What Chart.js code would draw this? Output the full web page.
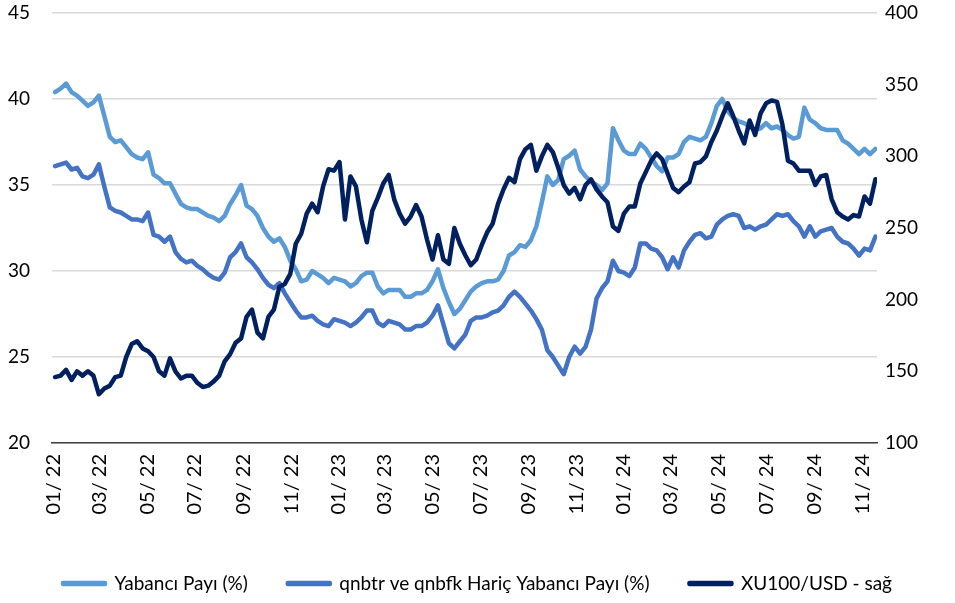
<!DOCTYPE html>
<html>
<head>
<meta charset="utf-8">
<script src="https://cdn.jsdelivr.net/npm/chart.js@4.4.1/dist/chart.umd.min.js"></script>
<style>
  html, body { margin: 0; padding: 0; background: #fff; }
  #wrap { width: 955px; height: 603px; position: relative; }
</style>
</head>
<body>
<div id="wrap"><canvas id="myChart"></canvas></div>
<script>
// Weekly readings, first week = 3 Jan 2022
const yabanciPayi = [
    40.4, 40.6, 40.9, 40.4, 40.2, 39.9, 39.6, 39.8, 40.2, 39.0,
    37.8, 37.5, 37.6, 37.2, 36.8, 36.6, 36.5, 36.9, 35.6, 35.4,
    35.1, 35.1, 34.5, 33.9, 33.7, 33.6, 33.6, 33.4, 33.2, 33.1,
    32.9, 33.2, 33.9, 34.4, 35.0, 33.8, 33.6, 33.2, 32.5, 32.0,
    31.7, 31.9, 31.4, 30.6, 30.1, 29.4, 29.5, 30.0, 29.8, 29.6,
    29.3, 29.6, 29.5, 29.4, 29.1, 29.3, 29.7, 29.9, 29.9, 29.1,
    28.7, 28.9, 28.9, 28.9, 28.5, 28.5, 28.7, 28.7, 28.9, 29.4,
    30.1, 29.0, 28.2, 27.5, 27.8, 28.3, 28.8, 29.1, 29.3, 29.4,
    29.4, 29.5, 30.0, 30.9, 31.1, 31.5, 31.4, 31.8, 32.6, 34.0,
    35.5, 35.0, 35.3, 36.5, 36.7, 37.0, 35.9, 35.5, 35.2, 35.0,
    34.7, 35.1, 38.3, 37.6, 37.0, 36.8, 36.8, 37.4, 37.1, 36.6,
    36.1, 35.8, 36.6, 36.6, 36.8, 37.5, 37.8, 37.7, 37.6, 37.8,
    38.6, 39.6, 40.0, 39.3, 38.9, 38.7, 38.6, 38.4, 38.2, 38.3,
    38.6, 38.3, 38.4, 38.2, 37.9, 37.7, 37.8, 39.5, 38.8, 38.6,
    38.3, 38.2, 38.2, 38.2, 37.6, 37.4, 37.1, 36.8, 37.1, 36.8,
    37.1
];
const haricPayi = [
    36.1, 36.2, 36.3, 35.9, 36.0, 35.5, 35.4, 35.6, 36.2, 34.9,
    33.7, 33.5, 33.4, 33.2, 33.0, 33.0, 32.9, 33.4, 32.1, 32.0,
    31.7, 32.0, 31.1, 30.7, 30.5, 30.6, 30.3, 30.1, 29.8, 29.6,
    29.5, 29.9, 30.8, 31.1, 31.6, 30.8, 30.5, 30.1, 29.6, 29.2,
    29.0, 29.3, 28.7, 28.2, 27.7, 27.3, 27.3, 27.4, 27.1, 26.9,
    26.8, 27.2, 27.1, 27.0, 26.8, 27.0, 27.3, 27.7, 27.7, 27.0,
    26.8, 27.1, 27.0, 26.9, 26.6, 26.6, 26.8, 26.8, 27.0, 27.4,
    28.0, 26.9, 25.8, 25.5, 25.9, 26.3, 27.1, 27.3, 27.3, 27.4,
    27.6, 27.7, 28.0, 28.5, 28.8, 28.5, 28.1, 27.7, 27.2, 26.6,
    25.4, 25.0, 24.5, 24.0, 25.0, 25.6, 25.2, 25.6, 26.6, 28.4,
    29.0, 29.4, 30.6, 30.0, 29.9, 29.7, 30.2, 31.6, 31.6, 31.3,
    31.2, 30.8, 30.1, 30.8, 30.2, 31.2, 31.7, 32.1, 32.2, 31.9,
    32.0, 32.7, 33.0, 33.2, 33.3, 33.2, 32.5, 32.6, 32.4, 32.6,
    32.7, 33.0, 33.3, 33.2, 33.3, 32.9, 32.6, 32.0, 32.6, 32.0,
    32.3, 32.4, 32.5, 32.0, 31.7, 31.6, 31.3, 30.9, 31.3, 31.2,
    32.0
];
const xu100Usd = [
    146, 147, 151, 144, 150, 147, 150, 147, 134, 138,
    140, 146, 147, 160, 169, 171, 166, 164, 160, 150,
    147, 159, 150, 145, 147, 147, 142, 139, 140, 143,
    147, 157, 162, 170, 173, 188, 193, 177, 173, 188,
    193, 209, 211, 218, 239, 246, 260, 267, 261, 279,
    291, 290, 296, 256, 286, 279, 256, 240, 262, 271,
    281, 287, 270, 260, 253, 258, 266, 258, 242, 228,
    245, 228, 225, 250, 239, 231, 224, 228, 238, 247,
    253, 267, 277, 285, 282, 298, 305, 308, 290, 300,
    308, 303, 292, 280, 274, 278, 270, 280, 284, 277,
    272, 268, 251, 248, 260, 265, 265, 281, 289, 297,
    302, 298, 288, 278, 275, 279, 282, 295, 296, 300,
    310, 318, 328, 337, 328, 318, 309, 325, 315, 330,
    337, 339, 338, 322, 297, 295, 290, 290, 290, 280,
    286, 287, 270, 261, 258, 256, 259, 258, 272, 267,
    284
];
const seriesNames = ['Yabancı Payı (%)', 'qnbtr ve qnbfk Hariç Yabancı Payı (%)', 'XU100/USD - sağ'];
const colorHex = ['#5b9bd5', '#4472c4', '#002060'];
const leftTicks = [20, 25, 30, 35, 40, 45];
const rightTicks = [100, 150, 200, 250, 300, 350, 400];

// x axis is "days since 1 Jan 2022"
const DAY = 86400000;
const origin = Date.UTC(2022, 0, 1);
const firstDay = (Date.UTC(2022, 0, 3) - origin) / DAY;
const weekDays = yabanciPayi.map((v, i) => firstDay + 7 * i);
// tick at first day of every second month: 01/22 ... 11/24
const tickDays = [];
for (let m = 0; m <= 34; m += 2) {
    tickDays.push((Date.UTC(2022, m, 1) - origin) / DAY);
}

function toPoints(values) {
    return values.map((v, i) => ({ x: weekDays[i], y: v }));
}

function monthLabel(day) {
    const d = new Date(origin + day * DAY);
    const mm = String(d.getUTCMonth() + 1).padStart(2, '0');
    return mm + '/ ' + String(d.getUTCFullYear()).slice(2);
}

// y axes: fixed width, no extra top/bottom padding
function fixY(width) {
    return scale => {
        scale.width = width;
        scale.paddingTop = 0;
        scale.paddingBottom = 0;
    };
}

Chart.defaults.font.family = 'Lato, "Open Sans", sans-serif';
Chart.defaults.color = '#000';

const ctx = document.getElementById('myChart').getContext('2d');
new Chart(ctx, {
    type: 'line',
    data: {
        datasets: [
            { label: seriesNames[0], data: toPoints(yabanciPayi), yAxisID: 'yL', borderColor: colorHex[0], backgroundColor: colorHex[0], order: 2 },
            { label: seriesNames[1], data: toPoints(haricPayi), yAxisID: 'yL', borderColor: colorHex[1], backgroundColor: colorHex[1], order: 1 },
            { label: seriesNames[2], data: toPoints(xu100Usd), yAxisID: 'yR', borderColor: colorHex[2], backgroundColor: colorHex[2], order: 0 }
        ]
    },
    options: {
        responsive: true,
        maintainAspectRatio: false,
        animation: false,
        layout: { padding: { top: 13, bottom: 0 } },
        elements: {
            point: { radius: 0 },
            line: { borderWidth: 4.5, tension: 0, borderJoinStyle: 'round', borderCapStyle: 'round' }
        },
        plugins: {
            tooltip: { enabled: false },
            legend: {
                position: 'bottom',
                labels: {
                    sort: (a, b) => a.datasetIndex - b.datasetIndex,
                    boxWidth: 42,
                    boxHeight: 1,
                    padding: 40,
                    font: { size: 19 }
                }
            }
        },
        scales: {
            x: {
                type: 'linear',
                min: firstDay - 4,
                max: weekDays[weekDays.length - 1] + 2,
                afterBuildTicks: scale => { scale.ticks = tickDays.map(v => ({ value: v })); },
                afterFit: scale => { scale.height = 91; },
                grid: { display: false, drawTicks: false },
                border: { display: true, color: '#404040', width: 1.5 },
                ticks: {
                    autoSkip: false,
                    minRotation: 90,
                    maxRotation: 90,
                    padding: 11,
                    font: { size: 20 },
                    callback: value => monthLabel(value)
                }
            },
            yL: {
                position: 'left',
                min: leftTicks[0],
                max: leftTicks[leftTicks.length - 1],
                afterFit: fixY(52),
                grid: { color: '#d9d9d9', lineWidth: 1.5, drawTicks: false },
                border: { display: false },
                ticks: { stepSize: 5, padding: 22, font: { size: 19 } }
            },
            yR: {
                position: 'right',
                min: rightTicks[0],
                max: rightTicks[rightTicks.length - 1],
                afterFit: fixY(78),
                grid: { display: false, drawTicks: false },
                border: { display: false },
                ticks: { stepSize: 50, padding: 8, font: { size: 19 } }
            }
        }
    }
});
</script>
</body>
</html>
